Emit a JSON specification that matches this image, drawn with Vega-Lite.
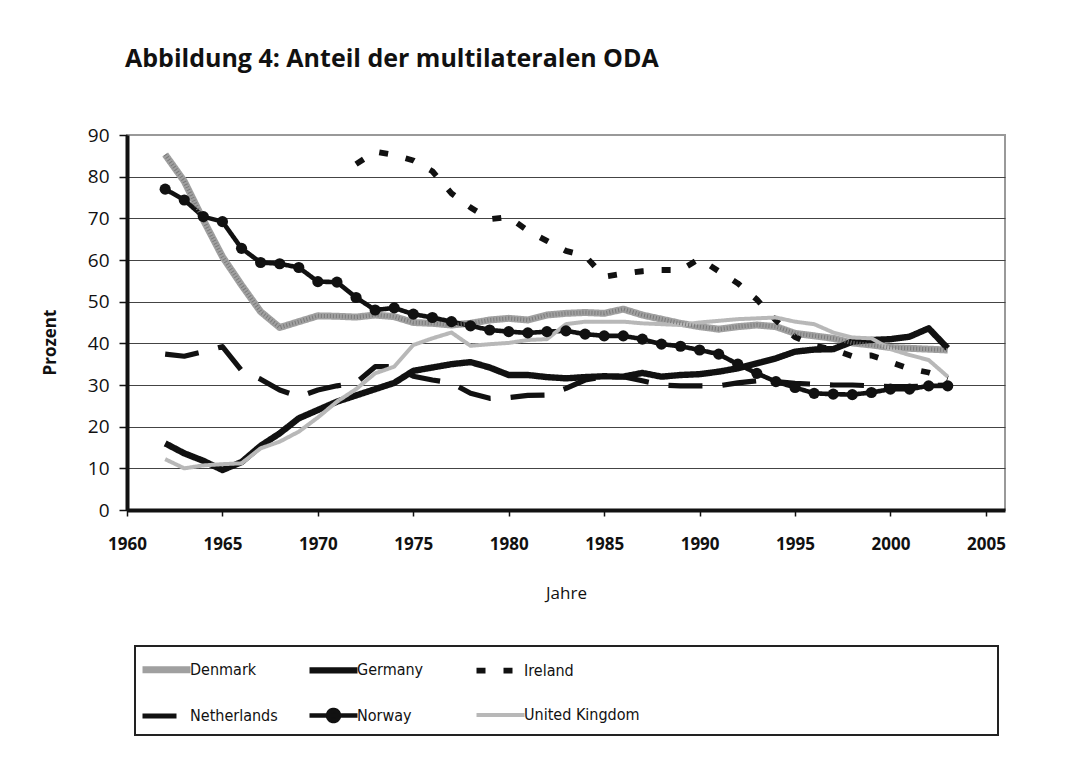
{
  "$schema": "https://vega.github.io/schema/vega-lite/v6.json",
  "autosize": {"type": "none"},
  "padding": {"left": 127, "top": 135, "right": 75, "bottom": 253},
  "width": 878,
  "height": 375,
  "background": "white",
  "title": {"text": "Abbildung 4: Anteil der multilateralen ODA", "anchor": "start", "frame": "group", "font": "Open Sans", "fontSize": 25, "fontWeight": "bold", "color": "#111", "offset": 34, "baseline": "alphabetic", "dx": -2},
  "config": {
    "view": {"stroke": "#999", "strokeWidth": 2},
    "font": "Open Sans",
    "legend": {"strokeWidth": 2}
  },
  "data": {"values": [
    {"year":1962,"country":"Denmark","value":85.3},{"year":1963,"country":"Denmark","value":78.9},{"year":1964,"country":"Denmark","value":69.6},{"year":1965,"country":"Denmark","value":60.8},{"year":1966,"country":"Denmark","value":54.0},{"year":1967,"country":"Denmark","value":47.6},{"year":1968,"country":"Denmark","value":43.8},{"year":1969,"country":"Denmark","value":45.2},{"year":1970,"country":"Denmark","value":46.6},{"year":1971,"country":"Denmark","value":46.5},{"year":1972,"country":"Denmark","value":46.3},{"year":1973,"country":"Denmark","value":46.8},{"year":1974,"country":"Denmark","value":46.4},{"year":1975,"country":"Denmark","value":45.0},{"year":1976,"country":"Denmark","value":44.8},{"year":1977,"country":"Denmark","value":44.4},{"year":1978,"country":"Denmark","value":44.8},{"year":1979,"country":"Denmark","value":45.6},{"year":1980,"country":"Denmark","value":46.0},{"year":1981,"country":"Denmark","value":45.6},{"year":1982,"country":"Denmark","value":46.8},{"year":1983,"country":"Denmark","value":47.2},{"year":1984,"country":"Denmark","value":47.4},{"year":1985,"country":"Denmark","value":47.2},{"year":1986,"country":"Denmark","value":48.2},{"year":1987,"country":"Denmark","value":46.8},{"year":1988,"country":"Denmark","value":45.8},{"year":1989,"country":"Denmark","value":44.8},{"year":1990,"country":"Denmark","value":44.0},{"year":1991,"country":"Denmark","value":43.4},{"year":1992,"country":"Denmark","value":44.0},{"year":1993,"country":"Denmark","value":44.4},{"year":1994,"country":"Denmark","value":44.0},{"year":1995,"country":"Denmark","value":42.4},{"year":1996,"country":"Denmark","value":41.8},{"year":1997,"country":"Denmark","value":41.2},{"year":1998,"country":"Denmark","value":40.1},{"year":1999,"country":"Denmark","value":39.6},{"year":2000,"country":"Denmark","value":39.0},{"year":2001,"country":"Denmark","value":38.8},{"year":2002,"country":"Denmark","value":38.6},{"year":2003,"country":"Denmark","value":38.4},
    {"year":1962,"country":"Germany","value":16.0},{"year":1963,"country":"Germany","value":13.6},{"year":1964,"country":"Germany","value":11.8},{"year":1965,"country":"Germany","value":9.6},{"year":1966,"country":"Germany","value":11.5},{"year":1967,"country":"Germany","value":15.4},{"year":1968,"country":"Germany","value":18.4},{"year":1969,"country":"Germany","value":22.0},{"year":1970,"country":"Germany","value":24.0},{"year":1971,"country":"Germany","value":26.0},{"year":1972,"country":"Germany","value":27.5},{"year":1973,"country":"Germany","value":29.0},{"year":1974,"country":"Germany","value":30.5},{"year":1975,"country":"Germany","value":33.4},{"year":1976,"country":"Germany","value":34.2},{"year":1977,"country":"Germany","value":35.0},{"year":1978,"country":"Germany","value":35.5},{"year":1979,"country":"Germany","value":34.2},{"year":1980,"country":"Germany","value":32.4},{"year":1981,"country":"Germany","value":32.4},{"year":1982,"country":"Germany","value":31.9},{"year":1983,"country":"Germany","value":31.6},{"year":1984,"country":"Germany","value":31.9},{"year":1985,"country":"Germany","value":32.1},{"year":1986,"country":"Germany","value":32.0},{"year":1987,"country":"Germany","value":32.9},{"year":1988,"country":"Germany","value":32.0},{"year":1989,"country":"Germany","value":32.4},{"year":1990,"country":"Germany","value":32.6},{"year":1991,"country":"Germany","value":33.2},{"year":1992,"country":"Germany","value":34.0},{"year":1993,"country":"Germany","value":35.2},{"year":1994,"country":"Germany","value":36.4},{"year":1995,"country":"Germany","value":38.0},{"year":1996,"country":"Germany","value":38.5},{"year":1997,"country":"Germany","value":38.6},{"year":1998,"country":"Germany","value":40.4},{"year":1999,"country":"Germany","value":40.8},{"year":2000,"country":"Germany","value":41.0},{"year":2001,"country":"Germany","value":41.6},{"year":2002,"country":"Germany","value":43.6},{"year":2003,"country":"Germany","value":38.8},
    {"year":1972,"country":"Ireland","value":83.0},{"year":1973,"country":"Ireland","value":86.0},{"year":1974,"country":"Ireland","value":85.2},{"year":1975,"country":"Ireland","value":83.9},{"year":1976,"country":"Ireland","value":81.3},{"year":1977,"country":"Ireland","value":76.0},{"year":1978,"country":"Ireland","value":72.6},{"year":1979,"country":"Ireland","value":69.8},{"year":1980,"country":"Ireland","value":70.3},{"year":1981,"country":"Ireland","value":67.0},{"year":1982,"country":"Ireland","value":64.6},{"year":1983,"country":"Ireland","value":62.2},{"year":1984,"country":"Ireland","value":61.0},{"year":1985,"country":"Ireland","value":56.0},{"year":1986,"country":"Ireland","value":56.7},{"year":1987,"country":"Ireland","value":57.3},{"year":1988,"country":"Ireland","value":57.6},{"year":1989,"country":"Ireland","value":57.6},{"year":1990,"country":"Ireland","value":60.3},{"year":1991,"country":"Ireland","value":57.3},{"year":1992,"country":"Ireland","value":54.4},{"year":1993,"country":"Ireland","value":50.5},{"year":1994,"country":"Ireland","value":45.5},{"year":1995,"country":"Ireland","value":41.5},{"year":1996,"country":"Ireland","value":39.5},{"year":1997,"country":"Ireland","value":38.5},{"year":1998,"country":"Ireland","value":36.9},{"year":1999,"country":"Ireland","value":37.1},{"year":2000,"country":"Ireland","value":35.5},{"year":2001,"country":"Ireland","value":33.9},{"year":2002,"country":"Ireland","value":33.0},{"year":2003,"country":"Ireland","value":31.5},
    {"year":1962,"country":"Netherlands","value":37.4},{"year":1963,"country":"Netherlands","value":36.9},{"year":1964,"country":"Netherlands","value":38.0},{"year":1965,"country":"Netherlands","value":39.2},{"year":1966,"country":"Netherlands","value":33.5},{"year":1967,"country":"Netherlands","value":31.4},{"year":1968,"country":"Netherlands","value":28.8},{"year":1969,"country":"Netherlands","value":27.2},{"year":1970,"country":"Netherlands","value":28.8},{"year":1971,"country":"Netherlands","value":29.8},{"year":1972,"country":"Netherlands","value":30.5},{"year":1973,"country":"Netherlands","value":34.4},{"year":1974,"country":"Netherlands","value":34.4},{"year":1975,"country":"Netherlands","value":32.1},{"year":1976,"country":"Netherlands","value":31.2},{"year":1977,"country":"Netherlands","value":30.5},{"year":1978,"country":"Netherlands","value":28.0},{"year":1979,"country":"Netherlands","value":26.8},{"year":1980,"country":"Netherlands","value":27.0},{"year":1981,"country":"Netherlands","value":27.5},{"year":1982,"country":"Netherlands","value":27.6},{"year":1983,"country":"Netherlands","value":29.2},{"year":1984,"country":"Netherlands","value":31.2},{"year":1985,"country":"Netherlands","value":32.0},{"year":1986,"country":"Netherlands","value":32.0},{"year":1987,"country":"Netherlands","value":31.0},{"year":1988,"country":"Netherlands","value":30.0},{"year":1989,"country":"Netherlands","value":29.8},{"year":1990,"country":"Netherlands","value":29.8},{"year":1991,"country":"Netherlands","value":29.8},{"year":1992,"country":"Netherlands","value":30.5},{"year":1993,"country":"Netherlands","value":31.0},{"year":1994,"country":"Netherlands","value":30.8},{"year":1995,"country":"Netherlands","value":30.4},{"year":1996,"country":"Netherlands","value":30.2},{"year":1997,"country":"Netherlands","value":30.0},{"year":1998,"country":"Netherlands","value":30.0},{"year":1999,"country":"Netherlands","value":29.8},{"year":2000,"country":"Netherlands","value":29.6},{"year":2001,"country":"Netherlands","value":29.6},{"year":2002,"country":"Netherlands","value":29.8},{"year":2003,"country":"Netherlands","value":30.0},
    {"year":1962,"country":"Norway","value":77.0},{"year":1963,"country":"Norway","value":74.4},{"year":1964,"country":"Norway","value":70.4},{"year":1965,"country":"Norway","value":69.2},{"year":1966,"country":"Norway","value":62.8},{"year":1967,"country":"Norway","value":59.4},{"year":1968,"country":"Norway","value":59.1},{"year":1969,"country":"Norway","value":58.2},{"year":1970,"country":"Norway","value":54.8},{"year":1971,"country":"Norway","value":54.7},{"year":1972,"country":"Norway","value":51.0},{"year":1973,"country":"Norway","value":48.0},{"year":1974,"country":"Norway","value":48.5},{"year":1975,"country":"Norway","value":47.0},{"year":1976,"country":"Norway","value":46.2},{"year":1977,"country":"Norway","value":45.2},{"year":1978,"country":"Norway","value":44.2},{"year":1979,"country":"Norway","value":43.2},{"year":1980,"country":"Norway","value":42.8},{"year":1981,"country":"Norway","value":42.5},{"year":1982,"country":"Norway","value":42.8},{"year":1983,"country":"Norway","value":43.0},{"year":1984,"country":"Norway","value":42.2},{"year":1985,"country":"Norway","value":41.8},{"year":1986,"country":"Norway","value":41.8},{"year":1987,"country":"Norway","value":41.0},{"year":1988,"country":"Norway","value":39.8},{"year":1989,"country":"Norway","value":39.3},{"year":1990,"country":"Norway","value":38.4},{"year":1991,"country":"Norway","value":37.4},{"year":1992,"country":"Norway","value":35.0},{"year":1993,"country":"Norway","value":32.8},{"year":1994,"country":"Norway","value":30.8},{"year":1995,"country":"Norway","value":29.4},{"year":1996,"country":"Norway","value":28.0},{"year":1997,"country":"Norway","value":27.8},{"year":1998,"country":"Norway","value":27.7},{"year":1999,"country":"Norway","value":28.2},{"year":2000,"country":"Norway","value":29.0},{"year":2001,"country":"Norway","value":29.0},{"year":2002,"country":"Norway","value":29.8},{"year":2003,"country":"Norway","value":29.8},
    {"year":1962,"country":"United Kingdom","value":12.2},{"year":1963,"country":"United Kingdom","value":10.0},{"year":1964,"country":"United Kingdom","value":10.7},{"year":1965,"country":"United Kingdom","value":11.0},{"year":1966,"country":"United Kingdom","value":11.2},{"year":1967,"country":"United Kingdom","value":14.8},{"year":1968,"country":"United Kingdom","value":16.4},{"year":1969,"country":"United Kingdom","value":18.8},{"year":1970,"country":"United Kingdom","value":22.2},{"year":1971,"country":"United Kingdom","value":26.0},{"year":1972,"country":"United Kingdom","value":29.0},{"year":1973,"country":"United Kingdom","value":32.8},{"year":1974,"country":"United Kingdom","value":34.4},{"year":1975,"country":"United Kingdom","value":39.6},{"year":1976,"country":"United Kingdom","value":41.2},{"year":1977,"country":"United Kingdom","value":42.6},{"year":1978,"country":"United Kingdom","value":39.4},{"year":1979,"country":"United Kingdom","value":39.8},{"year":1980,"country":"United Kingdom","value":40.1},{"year":1981,"country":"United Kingdom","value":40.8},{"year":1982,"country":"United Kingdom","value":41.0},{"year":1983,"country":"United Kingdom","value":44.6},{"year":1984,"country":"United Kingdom","value":45.2},{"year":1985,"country":"United Kingdom","value":45.2},{"year":1986,"country":"United Kingdom","value":45.2},{"year":1987,"country":"United Kingdom","value":44.8},{"year":1988,"country":"United Kingdom","value":44.6},{"year":1989,"country":"United Kingdom","value":44.4},{"year":1990,"country":"United Kingdom","value":45.0},{"year":1991,"country":"United Kingdom","value":45.4},{"year":1992,"country":"United Kingdom","value":45.8},{"year":1993,"country":"United Kingdom","value":46.0},{"year":1994,"country":"United Kingdom","value":46.2},{"year":1995,"country":"United Kingdom","value":45.2},{"year":1996,"country":"United Kingdom","value":44.6},{"year":1997,"country":"United Kingdom","value":42.6},{"year":1998,"country":"United Kingdom","value":41.4},{"year":1999,"country":"United Kingdom","value":41.2},{"year":2000,"country":"United Kingdom","value":38.6},{"year":2001,"country":"United Kingdom","value":37.2},{"year":2002,"country":"United Kingdom","value":36.0},{"year":2003,"country":"United Kingdom","value":32.0}
  ]},
  "layer": [
    {
      "mark": {"type": "line", "strokeCap": "butt", "strokeJoin": "round"},
      "encoding": {
        "x": {"field": "year", "type": "quantitative", "scale": {"domain": [1960, 2006], "nice": false, "zero": false},
          "axis": {"values": [1960,1965,1970,1975,1980,1985,1990,1995,2000,2005], "format": "d", "title": "Jahre", "grid": false,
            "labelFont": "Open Sans", "labelFontSize": 17, "labelFontWeight": "bold", "labelColor": "#111", "labelPadding": 20, "labelFlush": false, "labelOverlap": false,
            "tickSize": 6, "tickColor": "#111", "tickWidth": 1.5, "domainColor": "#111", "domainWidth": 4,
            "titleFont": "Open Sans", "titleFontSize": 17, "titleFontWeight": "normal", "titleColor": "#111", "titleY": 83, "titleBaseline": "middle"}},
        "y": {"field": "value", "type": "quantitative", "scale": {"domain": [0, 90], "nice": false},
          "axis": {"values": [0,10,20,30,40,50,60,70,80,90], "title": "Prozent", "grid": true, "gridColor": "#444", "gridWidth": 1,
            "gridOpacity": {"condition": {"test": "datum.value === 90 || datum.value === 0", "value": 0}, "value": 1},
            "labelFont": "Open Sans", "labelFontSize": 19, "labelColor": "#111", "labelPadding": 10,
            "tickSize": 8, "tickColor": "#111", "tickWidth": 1.5, "domainColor": "#111", "domainWidth": 4,
            "titleFont": "Open Sans", "titleFontSize": 17, "titleFontWeight": "bold", "titleColor": "#111", "titleX": -77, "titleY": 207, "titleAlign": "center", "titleBaseline": "middle"}},
        "color": {"field": "country", "type": "nominal",
          "scale": {"domain": ["Denmark","Germany","Ireland","Netherlands","Norway","United Kingdom"], "range": ["#a0a0a0","#111111","#111111","#111111","#111111","#b8b8b8"]},
          "legend": {"orient": "none", "legendX": 8, "legendY": 511, "direction": "horizontal", "columns": 3, "gridAlign": "all",
            "title": " ", "titleOrient": "right", "titlePadding": 354, "titleFontSize": 2,
            "symbolType": "M-1.5,0H1.5", "symbolSize": 1024, "symbolOffset": 8, "labelOffset": 4, "symbolStrokeWidth": 1.5,
            "labelFont": "DejaVu Sans Condensed, Roboto, sans-serif", "labelFontSize": 16, "labelColor": "#111", "labelLimit": 300,
            "rowPadding": 13, "columnPadding": -28, "padding": 4, "strokeColor": "#222",
            "encode": {"symbols": {"update": {
              "shape": {"signal": "datum.value === 'Norway' ? 'M-1.5,0H1.5M-0.34,0A0.34,0.34 0 1,0 0.34,0A0.34,0.34 0 1,0 -0.34,0' : 'M-1.5,0H1.5'"},
              "fill": {"signal": "datum.value === 'Norway' ? '#111' : 'transparent'"},
              "strokeWidth": {"signal": "datum.value === 'Denmark' ? 7 : datum.value === 'Norway' ? 2 : datum.value === 'United Kingdom' ? 4.5 : 5"},
              "strokeDash": {"signal": "datum.value === 'Ireland' ? [6,12] : datum.value === 'Netherlands' ? [17,12] : [1,0]"},
              "opacity": {"value": 1}
            }}}}},
        "strokeDash": {"field": "country", "type": "nominal", "legend": null,
          "scale": {"domain": ["Denmark","Germany","Ireland","Netherlands","Norway","United Kingdom"], "range": [[1,0],[1,0],[9,18],[34,20],[1,0],[1,0]]}},
        "strokeWidth": {"field": "country", "type": "nominal", "legend": null,
          "scale": {"domain": ["Denmark","Germany","Ireland","Netherlands","Norway","United Kingdom"], "range": [7,4,5,5,2,4.5]}}
      }
    },
    {
      "transform": [{"filter": "datum.country === 'Denmark'"}],
      "mark": {"type": "line", "color": "#7a7a7a", "strokeWidth": 4, "strokeDash": [1, 2], "strokeCap": "butt"},
      "encoding": {"x": {"field": "year", "type": "quantitative"}, "y": {"field": "value", "type": "quantitative"}}
    },
    {
      "transform": [{"filter": "datum.country === 'Norway'"}],
      "mark": {"type": "point", "filled": true, "size": 125, "color": "#111", "opacity": 1},
      "encoding": {"x": {"field": "year", "type": "quantitative"}, "y": {"field": "value", "type": "quantitative"}}
    }
  ]
}
